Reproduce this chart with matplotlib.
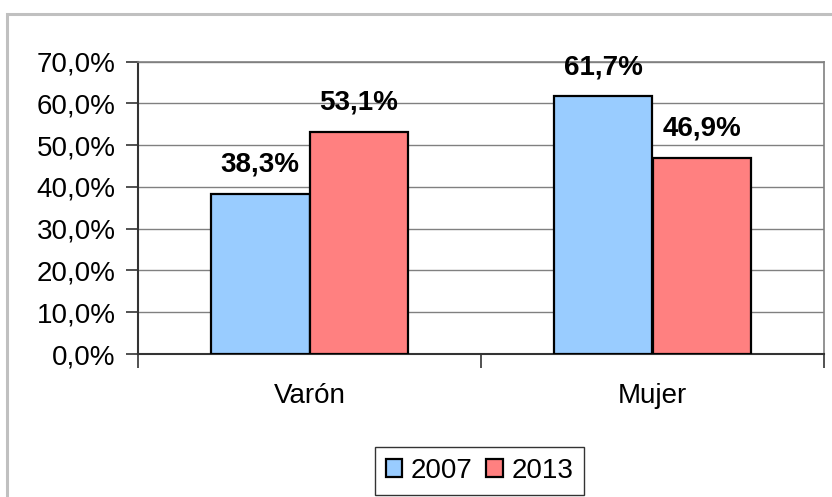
import matplotlib
matplotlib.use("Agg")
import matplotlib.pyplot as plt
from matplotlib.patches import Rectangle, Patch
import numpy as np

categories = ["Varón", "Mujer"]
years = ["2007", "2013"]
values_2007 = [38.3, 61.7]
values_2013 = [53.1, 46.9]
yticks = [0, 10, 20, 30, 40, 50, 60, 70]

plt.rcParams['font.family'] = ['Liberation Sans', 'DejaVu Sans']

W, H = 832, 497
fig = plt.figure(figsize=(W / 100, H / 100), dpi=100)

# outer chart frame
fig.patches.append(Rectangle((7 / W, -0.05), 1.2, 1 - 14 / H + 0.05, transform=fig.transFigure,
                             fill=False, edgecolor="#c0c0c0", linewidth=2.2, zorder=0))

ax = fig.add_axes([138 / W, 1 - 354 / H, (824 - 138) / W, (354 - 61.5) / H])

x = np.arange(len(categories))
bw = 0.287
c2007 = "#99CCFF"
c2013 = "#FF8080"
b1 = ax.bar(x - bw / 2, values_2007, bw, color=c2007, edgecolor="black", linewidth=1.6, zorder=3)
b2 = ax.bar(x + bw / 2, values_2013, bw, color=c2013, edgecolor="black", linewidth=1.6, zorder=3)

def fmt(v):
    return f"{v:.1f}".replace(".", ",") + "%"

for bars, vals in ((b1, values_2007), (b2, values_2013)):
    for r, v in zip(bars, vals):
        ax.annotate(fmt(v), (r.get_x() + r.get_width() / 2, v), xytext=(0, 21),
                    textcoords="offset points", ha="center", va="center",
                    fontsize=20, fontweight="bold")

ax.set_xlim(-0.5, 1.5)
ax.set_ylim(0, 70)
ax.set_yticks(yticks)
ax.set_yticklabels([f"{t},0%" for t in yticks])
ax.yaxis.grid(True, color="#808080", linewidth=1.0, zorder=0)
ax.set_axisbelow(True)

ax.set_xticks([-0.5, 0.5, 1.5])
ax.set_xticklabels([])
ax.set_xticks(x, minor=True)
ax.set_xticklabels(categories, minor=True)
ax.tick_params(axis="x", which="major", direction="out", length=10, width=1.2, color="#333333")
ax.tick_params(axis="x", which="minor", length=0, pad=21, labelsize=20)
ax.tick_params(axis="y", direction="out", length=9, width=1.2, color="#333333", pad=7, labelsize=20)

for s in ("top", "right"):
    ax.spines[s].set_color("#808080")
    ax.spines[s].set_linewidth(1.2)
for s in ("left", "bottom"):
    ax.spines[s].set_color("#333333")
    ax.spines[s].set_linewidth(1.5)

handles = [Patch(facecolor=c2007, edgecolor="black", linewidth=1.6),
           Patch(facecolor=c2013, edgecolor="black", linewidth=1.6)]
leg = fig.legend(handles, years, loc="center", bbox_to_anchor=(479.5 / W, 1 - 471 / H),
                 ncol=2, fontsize=20, frameon=True, fancybox=False, edgecolor="black",
                 handlelength=0.6, handleheight=0.6, handletextpad=0.3, columnspacing=0.5,
                 borderpad=0.4, borderaxespad=0)
leg.get_frame().set_linewidth(1.0)

fig.savefig("out.png", dpi=100)
